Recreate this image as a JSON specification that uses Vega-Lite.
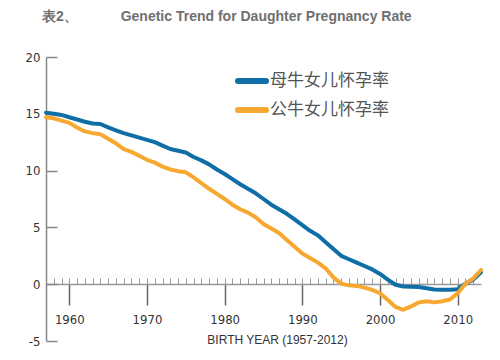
{
  "$schema": "https://vega.github.io/schema/vega-lite/v6.json",
  "autosize": "none",
  "width": 435,
  "height": 284,
  "padding": {"left": 46, "top": 57, "right": 19, "bottom": 19},
  "background": "white",
  "title": {
    "text": "表2、\u00a0\u00a0\u00a0\u00a0\u00a0\u00a0\u00a0\u00a0\u00a0\u00a0\u00a0Genetic Trend for Daughter Pregnancy Rate",
    "anchor": "start",
    "dx": 17,
    "offset": 27,
    "font": "Liberation Sans",
    "fontSize": 14,
    "fontWeight": "bold",
    "color": "#6f6f6f"
  },
  "config": {
    "view": {"stroke": null},
    "axis": {"grid": false, "labelFont": "DejaVu Sans Condensed", "labelFontSize": 13, "labelColor": "#333"}
  },
  "data": {
    "values": [
      {"year": 1957, "series": "母牛女儿怀孕率", "value": 15.1},
      {"year": 1958, "series": "母牛女儿怀孕率", "value": 15.0},
      {"year": 1959, "series": "母牛女儿怀孕率", "value": 14.9},
      {"year": 1960, "series": "母牛女儿怀孕率", "value": 14.7},
      {"year": 1961, "series": "母牛女儿怀孕率", "value": 14.5},
      {"year": 1962, "series": "母牛女儿怀孕率", "value": 14.3},
      {"year": 1963, "series": "母牛女儿怀孕率", "value": 14.15},
      {"year": 1964, "series": "母牛女儿怀孕率", "value": 14.1},
      {"year": 1965, "series": "母牛女儿怀孕率", "value": 13.8},
      {"year": 1966, "series": "母牛女儿怀孕率", "value": 13.55},
      {"year": 1967, "series": "母牛女儿怀孕率", "value": 13.3},
      {"year": 1968, "series": "母牛女儿怀孕率", "value": 13.1},
      {"year": 1969, "series": "母牛女儿怀孕率", "value": 12.9},
      {"year": 1970, "series": "母牛女儿怀孕率", "value": 12.7},
      {"year": 1971, "series": "母牛女儿怀孕率", "value": 12.5},
      {"year": 1972, "series": "母牛女儿怀孕率", "value": 12.2},
      {"year": 1973, "series": "母牛女儿怀孕率", "value": 11.9},
      {"year": 1974, "series": "母牛女儿怀孕率", "value": 11.75},
      {"year": 1975, "series": "母牛女儿怀孕率", "value": 11.6},
      {"year": 1976, "series": "母牛女儿怀孕率", "value": 11.2},
      {"year": 1977, "series": "母牛女儿怀孕率", "value": 10.9},
      {"year": 1978, "series": "母牛女儿怀孕率", "value": 10.55},
      {"year": 1979, "series": "母牛女儿怀孕率", "value": 10.1},
      {"year": 1980, "series": "母牛女儿怀孕率", "value": 9.7},
      {"year": 1981, "series": "母牛女儿怀孕率", "value": 9.25},
      {"year": 1982, "series": "母牛女儿怀孕率", "value": 8.8},
      {"year": 1983, "series": "母牛女儿怀孕率", "value": 8.4},
      {"year": 1984, "series": "母牛女儿怀孕率", "value": 8.0},
      {"year": 1985, "series": "母牛女儿怀孕率", "value": 7.5},
      {"year": 1986, "series": "母牛女儿怀孕率", "value": 7.0},
      {"year": 1987, "series": "母牛女儿怀孕率", "value": 6.6},
      {"year": 1988, "series": "母牛女儿怀孕率", "value": 6.2},
      {"year": 1989, "series": "母牛女儿怀孕率", "value": 5.7},
      {"year": 1990, "series": "母牛女儿怀孕率", "value": 5.2},
      {"year": 1991, "series": "母牛女儿怀孕率", "value": 4.7},
      {"year": 1992, "series": "母牛女儿怀孕率", "value": 4.3},
      {"year": 1993, "series": "母牛女儿怀孕率", "value": 3.7},
      {"year": 1994, "series": "母牛女儿怀孕率", "value": 3.1},
      {"year": 1995, "series": "母牛女儿怀孕率", "value": 2.5},
      {"year": 1996, "series": "母牛女儿怀孕率", "value": 2.2},
      {"year": 1997, "series": "母牛女儿怀孕率", "value": 1.9},
      {"year": 1998, "series": "母牛女儿怀孕率", "value": 1.6},
      {"year": 1999, "series": "母牛女儿怀孕率", "value": 1.3},
      {"year": 2000, "series": "母牛女儿怀孕率", "value": 0.9},
      {"year": 2001, "series": "母牛女儿怀孕率", "value": 0.4},
      {"year": 2002, "series": "母牛女儿怀孕率", "value": -0.05},
      {"year": 2003, "series": "母牛女儿怀孕率", "value": -0.2},
      {"year": 2004, "series": "母牛女儿怀孕率", "value": -0.22},
      {"year": 2005, "series": "母牛女儿怀孕率", "value": -0.24},
      {"year": 2006, "series": "母牛女儿怀孕率", "value": -0.35},
      {"year": 2007, "series": "母牛女儿怀孕率", "value": -0.47},
      {"year": 2008, "series": "母牛女儿怀孕率", "value": -0.48},
      {"year": 2009, "series": "母牛女儿怀孕率", "value": -0.48},
      {"year": 2010, "series": "母牛女儿怀孕率", "value": -0.45},
      {"year": 2011, "series": "母牛女儿怀孕率", "value": 0.05},
      {"year": 2012, "series": "母牛女儿怀孕率", "value": 0.4},
      {"year": 2013, "series": "母牛女儿怀孕率", "value": 1.05},
      {"year": 1957, "series": "公牛女儿怀孕率", "value": 14.7},
      {"year": 1958, "series": "公牛女儿怀孕率", "value": 14.6},
      {"year": 1959, "series": "公牛女儿怀孕率", "value": 14.4},
      {"year": 1960, "series": "公牛女儿怀孕率", "value": 14.2},
      {"year": 1961, "series": "公牛女儿怀孕率", "value": 13.8},
      {"year": 1962, "series": "公牛女儿怀孕率", "value": 13.45},
      {"year": 1963, "series": "公牛女儿怀孕率", "value": 13.3},
      {"year": 1964, "series": "公牛女儿怀孕率", "value": 13.2},
      {"year": 1965, "series": "公牛女儿怀孕率", "value": 12.8},
      {"year": 1966, "series": "公牛女儿怀孕率", "value": 12.4},
      {"year": 1967, "series": "公牛女儿怀孕率", "value": 11.9},
      {"year": 1968, "series": "公牛女儿怀孕率", "value": 11.65},
      {"year": 1969, "series": "公牛女儿怀孕率", "value": 11.3},
      {"year": 1970, "series": "公牛女儿怀孕率", "value": 10.95},
      {"year": 1971, "series": "公牛女儿怀孕率", "value": 10.7},
      {"year": 1972, "series": "公牛女儿怀孕率", "value": 10.35},
      {"year": 1973, "series": "公牛女儿怀孕率", "value": 10.1},
      {"year": 1974, "series": "公牛女儿怀孕率", "value": 9.95},
      {"year": 1975, "series": "公牛女儿怀孕率", "value": 9.85},
      {"year": 1976, "series": "公牛女儿怀孕率", "value": 9.4},
      {"year": 1977, "series": "公牛女儿怀孕率", "value": 8.9},
      {"year": 1978, "series": "公牛女儿怀孕率", "value": 8.4},
      {"year": 1979, "series": "公牛女儿怀孕率", "value": 7.95},
      {"year": 1980, "series": "公牛女儿怀孕率", "value": 7.5},
      {"year": 1981, "series": "公牛女儿怀孕率", "value": 7.0},
      {"year": 1982, "series": "公牛女儿怀孕率", "value": 6.6},
      {"year": 1983, "series": "公牛女儿怀孕率", "value": 6.3},
      {"year": 1984, "series": "公牛女儿怀孕率", "value": 5.9},
      {"year": 1985, "series": "公牛女儿怀孕率", "value": 5.3},
      {"year": 1986, "series": "公牛女儿怀孕率", "value": 4.9},
      {"year": 1987, "series": "公牛女儿怀孕率", "value": 4.5},
      {"year": 1988, "series": "公牛女儿怀孕率", "value": 3.9},
      {"year": 1989, "series": "公牛女儿怀孕率", "value": 3.3},
      {"year": 1990, "series": "公牛女儿怀孕率", "value": 2.7},
      {"year": 1991, "series": "公牛女儿怀孕率", "value": 2.3},
      {"year": 1992, "series": "公牛女儿怀孕率", "value": 1.9},
      {"year": 1993, "series": "公牛女儿怀孕率", "value": 1.4},
      {"year": 1994, "series": "公牛女儿怀孕率", "value": 0.6},
      {"year": 1995, "series": "公牛女儿怀孕率", "value": 0.05},
      {"year": 1996, "series": "公牛女儿怀孕率", "value": -0.1},
      {"year": 1997, "series": "公牛女儿怀孕率", "value": -0.15},
      {"year": 1998, "series": "公牛女儿怀孕率", "value": -0.3},
      {"year": 1999, "series": "公牛女儿怀孕率", "value": -0.5},
      {"year": 2000, "series": "公牛女儿怀孕率", "value": -0.8},
      {"year": 2001, "series": "公牛女儿怀孕率", "value": -1.4},
      {"year": 2002, "series": "公牛女儿怀孕率", "value": -2.0},
      {"year": 2003, "series": "公牛女儿怀孕率", "value": -2.25},
      {"year": 2004, "series": "公牛女儿怀孕率", "value": -1.95},
      {"year": 2005, "series": "公牛女儿怀孕率", "value": -1.6},
      {"year": 2006, "series": "公牛女儿怀孕率", "value": -1.5},
      {"year": 2007, "series": "公牛女儿怀孕率", "value": -1.6},
      {"year": 2008, "series": "公牛女儿怀孕率", "value": -1.5},
      {"year": 2009, "series": "公牛女儿怀孕率", "value": -1.35},
      {"year": 2010, "series": "公牛女儿怀孕率", "value": -0.8},
      {"year": 2011, "series": "公牛女儿怀孕率", "value": 0.05},
      {"year": 2012, "series": "公牛女儿怀孕率", "value": 0.5},
      {"year": 2013, "series": "公牛女儿怀孕率", "value": 1.25}
    ]
  },
  "resolve": {"axis": {"x": "independent"}},
  "layer": [
    {
      "mark": {"type": "line", "opacity": 0},
      "encoding": {
        "x": {
          "field": "year", "type": "quantitative",
          "scale": {"domain": [1957, 2013], "nice": false, "zero": false},
          "axis": {
            "orient": "bottom", "offset": -57, "values": [1958,1959,1960,1961,1962,1963,1964,1965,1966,1967,1968,1969,1970,1971,1972,1973,1974,1975,1976,1977,1978,1979,1980,1981,1982,1983,1984,1985,1986,1987,1988,1989,1990,1991,1992,1993,1994,1995,1996,1997,1998,1999,2000,2001,2002,2003,2004,2005,2006,2007,2008,2009,2010,2011,2012],
            "labels": false, "domain": false, "tickSize": -6, "tickColor": "#999", "tickWidth": 1, "title": null
          }
        },
        "y": {
          "field": "value", "type": "quantitative",
          "scale": {"domain": [-5, 20], "nice": false, "zero": false},
          "axis": {
            "values": [-5, 0, 5, 10, 15, 20],
            "labelExpr": "replace(datum.label, '\u2212', '-')",
            "domainColor": "#888", "domainWidth": 1.5,
            "tickSize": -11, "tickColor": "#888", "tickWidth": 1.5,
            "labelPadding": 17, "title": null
          }
        },
        "detail": {"field": "series"}
      }
    },
    {
      "mark": {"type": "line", "strokeWidth": 4, "strokeCap": "round", "strokeJoin": "round"},
      "encoding": {
        "x": {
          "field": "year", "type": "quantitative",
          "scale": {"domain": [1957, 2013], "nice": false, "zero": false},
          "axis": {
            "orient": "bottom", "offset": -57,
            "values": [1960, 1970, 1980, 1990, 2000, 2010], "format": "d",
            "domainColor": "#999", "domainWidth": 1.5,
            "tickSize": 21, "tickColor": "#666", "tickWidth": 1.5,
            "labelPadding": 8,
            "title": "BIRTH YEAR (1957-2012)",
            "titleFont": "Liberation Sans", "titleFontSize": 12, "titleFontWeight": "normal",
            "titleColor": "#333", "titlePadding": 8, "titleX": 231
          }
        },
        "y": {
          "field": "value", "type": "quantitative",
          "scale": {"domain": [-5, 20], "nice": false, "zero": false},
          "axis": {
            "values": [-5, 0, 5, 10, 15, 20],
            "labelExpr": "replace(datum.label, '\u2212', '-')",
            "domainColor": "#888", "domainWidth": 1.5,
            "tickSize": -11, "tickColor": "#888", "tickWidth": 1.5,
            "labelPadding": 17, "title": null
          }
        },
        "color": {
          "field": "series", "type": "nominal",
          "sort": ["母牛女儿怀孕率", "公牛女儿怀孕率"],
          "scale": {"domain": ["母牛女儿怀孕率", "公牛女儿怀孕率"], "range": ["#0f6ea5", "#f7a830"]},
          "legend": {
            "title": null, "orient": "none", "legendX": 189, "legendY": 7,
            "symbolType": "stroke", "symbolSize": 784, "symbolStrokeWidth": 6,
            "labelFont": "Noto Sans CJK SC", "labelFontSize": 17, "labelColor": "#555",
            "labelOffset": 1, "rowPadding": -12,
            "encode": {"symbols": {"update": {"strokeCap": {"value": "round"}}}}
          }
        }
      }
    }
  ]
}
